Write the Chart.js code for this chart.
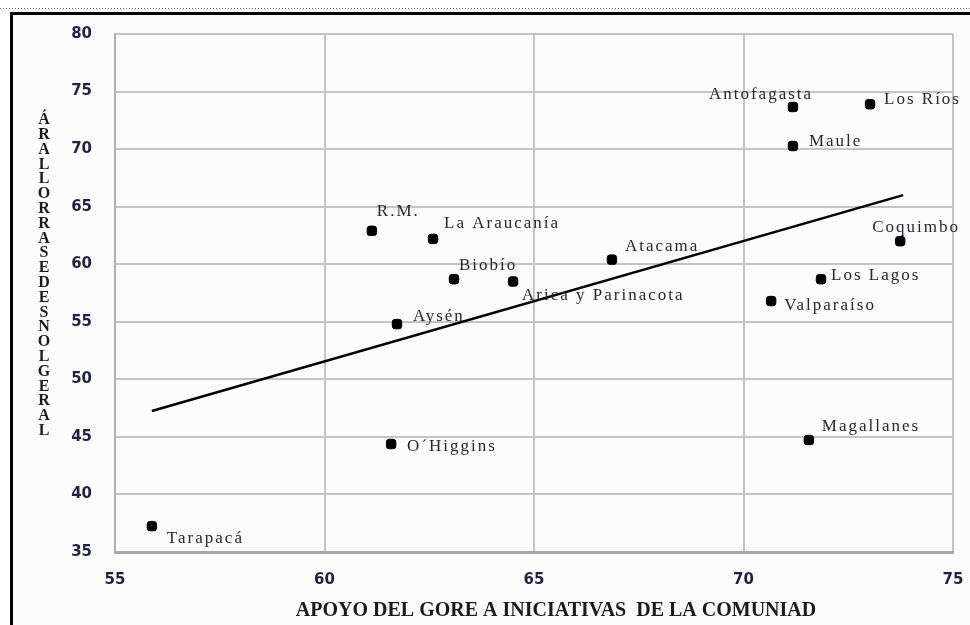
<!DOCTYPE html>
<html>
<head>
<meta charset="utf-8">
<script src="https://cdn.jsdelivr.net/npm/chart.js@4.4.0/dist/chart.umd.min.js"></script>
<style>
  html, body { margin: 0; padding: 0; background: #fff; }
  #wrap { position: relative; width: 970px; height: 625px; }
</style>
</head>
<body>
<div id="wrap"><canvas id="myChart" width="970" height="625"></canvas></div>
<script>
// regions and their values
const regions = ['Tarapacá', 'O´Higgins', 'Aysén', 'R.M.', 'La Araucanía', 'Biobío', 'Arica y Parinacota',
    'Atacama', 'Antofagasta', 'Los Ríos', 'Maule', 'Coquimbo', 'Los Lagos', 'Valparaíso', 'Magallanes'];
const apoyo = [55.88, 61.59, 61.73, 61.13, 62.59, 63.09, 64.50, 66.86, 71.18, 73.02, 71.18, 73.74, 71.85, 70.66, 71.56];
const valoracion = [37.25, 44.38, 54.8, 62.9, 62.2, 58.7, 58.5, 60.4, 73.66, 73.9, 70.27, 62.0, 58.7, 56.8, 44.73];

// trend line end points
const trendX = [55.88, 73.81];
const trendY = [47.25, 66.0];

const xTicks = [55, 60, 65, 70, 75];
const yTicks = [35, 40, 45, 50, 55, 60, 65, 70, 75, 80];

const xTitle = 'APOYO DEL GORE A INICIATIVAS  DE LA COMUNIAD';
const yTitle = 'ÁRALLORRASEDESNOLGERAL';

// label offsets (px) from each point
const labelOffsets = {
    'Tarapacá': [15, 12], 'O´Higgins': [16, 3], 'Aysén': [16, -8], 'R.M.': [5, -19],
    'La Araucanía': [11, -15], 'Biobío': [5, -14], 'Arica y Parinacota': [9, 14], 'Atacama': [13, -13],
    'Antofagasta': [-84, -12], 'Los Ríos': [14, -5], 'Maule': [16, -4], 'Coquimbo': [-28, -14],
    'Los Lagos': [10, -4], 'Valparaíso': [13, 4], 'Magallanes': [13, -13]
};

const points = regions.map((r, i) => ({ x: apoyo[i], y: valoracion[i] }));
const trend = trendX.map((x, i) => ({ x: x, y: trendY[i] }));

const framePlugin = {
    id: 'frame',
    beforeDraw(chart) {
        const ctx = chart.ctx;
        ctx.save();
        ctx.fillStyle = '#ffffff';
        ctx.fillRect(0, 0, chart.width, chart.height);
        ctx.fillStyle = '#fbfcfb';
        ctx.fillRect(10, 12, chart.width - 10, chart.height - 12);
        ctx.strokeStyle = '#666';
        ctx.lineWidth = 1;
        ctx.setLineDash([1, 2]);
        ctx.beginPath();
        ctx.moveTo(0, 8.5);
        ctx.lineTo(chart.width, 8.5);
        ctx.stroke();
        ctx.setLineDash([]);
        ctx.strokeStyle = '#000';
        ctx.lineWidth = 3;
        ctx.beginPath();
        ctx.moveTo(11.5, chart.height);
        ctx.lineTo(11.5, 13.5);
        ctx.lineTo(chart.width, 13.5);
        ctx.stroke();
        ctx.restore();
    },
    afterDraw(chart) {
        const ctx = chart.ctx;
        ctx.save();
        // x title
        ctx.font = 'bold 20px "Liberation Serif"';
        ctx.fillStyle = '#1a1a1a';
        ctx.textAlign = 'center';
        ctx.textBaseline = 'middle';
        ctx.fillText(xTitle, 556, 611);
        // y title, stacked letters
        ctx.font = 'bold 16px "Liberation Serif"';
        ctx.fillStyle = '#1a1a1a';
        const chars = Array.from(yTitle);
        chars.forEach((c, i) => {
            ctx.fillText(c, 44, 120 + i * 14.8);
        });
        // point labels
        const meta = chart.getDatasetMeta(1);
        ctx.font = '17px "Liberation Serif"';
        ctx.letterSpacing = '2px';
        ctx.fillStyle = '#262636';
        ctx.textAlign = 'left';
        meta.data.forEach((pt, i) => {
            const off = labelOffsets[regions[i]] || [10, 0];
            ctx.fillText(regions[i], pt.x + off[0], pt.y + off[1]);
        });
        ctx.restore();
    }
};

const tickFont = { family: '"DejaVu Sans"', size: 15, weight: 'bold' };

const ctx = document.getElementById('myChart').getContext('2d');
const myChart = new Chart(ctx, {
    type: 'scatter',
    data: {
        datasets: [{
            type: 'line',
            label: 'Tendencia',
            data: trend,
            borderColor: '#000',
            borderWidth: 2.5,
            pointRadius: 0,
            fill: false
        }, {
            label: 'Regiones',
            data: points,
            backgroundColor: '#000',
            borderColor: '#000',
            pointStyle: 'rectRounded',
            pointRadius: 5.5,
            pointHoverRadius: 5.5
        }]
    },
    options: {
        responsive: false,
        animation: false,
        layout: { padding: { left: 0, top: 34, right: 17, bottom: 0 } },
        plugins: {
            legend: { display: false },
            tooltip: { enabled: false }
        },
        scales: {
            x: {
                type: 'linear',
                min: 55,
                max: 75,
                afterBuildTicks: (axis) => { axis.ticks = xTicks.map(v => ({ value: v })); },
                afterFit: (axis) => { axis.height = 73; axis.paddingRight = 0; axis.paddingLeft = 0; },
                grid: { color: '#c4c4c4', lineWidth: 2, drawTicks: false },
                border: { color: '#a6a6a6', width: 3 },
                ticks: { font: tickFont, color: '#1e2340', padding: 19 }
            },
            y: {
                type: 'linear',
                min: 35,
                max: 80,
                afterBuildTicks: (axis) => { axis.ticks = yTicks.map(v => ({ value: v })); },
                afterFit: (axis) => { axis.width = 115; axis.paddingTop = 0; axis.paddingBottom = 0; },
                grid: { color: '#c4c4c4', lineWidth: 2, drawTicks: false },
                border: { color: '#b0b0b0', width: 2 },
                ticks: { font: tickFont, color: '#1e2340', padding: 23 }
            }
        }
    },
    plugins: [framePlugin]
});
</script>
</body>
</html>
